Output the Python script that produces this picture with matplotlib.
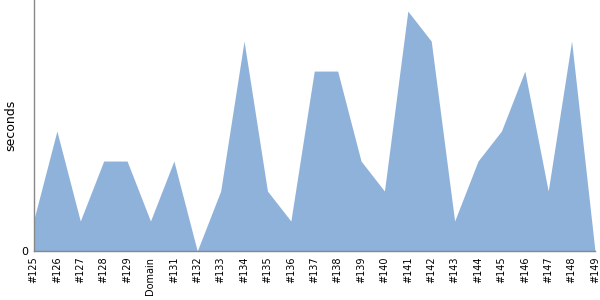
import matplotlib
matplotlib.use("Agg")
import matplotlib.pyplot as plt
import numpy as np

labels = ["#125", "#126", "#127", "#128", "#129", "Domain", "#131", "#132",
          "#133", "#134", "#135", "#136", "#137", "#138", "#139", "#140",
          "#141", "#142", "#143", "#144", "#145", "#146", "#147", "#148",
          "#149"]
seconds = [1, 4, 1, 3, 3, 1, 3, 0, 2, 7, 2, 1, 6, 6, 3, 2, 8, 7, 1, 3, 4,
           6, 2, 7, 0]

fig = plt.figure(figsize=(6, 3), dpi=100)
ax = fig.add_axes([33.5 / 600, 49 / 300, (595 - 33.5) / 600, 251 / 300])

x = np.arange(len(labels))
ax.fill_between(x, seconds, 0, color="#8fb2db", linewidth=0)

ax.set_xlim(0, len(labels) - 1)
ax.set_ylim(0, 8.37)
ax.set_xticks(x)
ax.set_xticklabels(labels, rotation=90, fontsize=7)
ax.set_yticks([0])
ax.set_yticklabels(["0"], fontsize=8)
ax.tick_params(length=0, pad=4)
ax.set_ylabel("seconds", fontsize=9, va="center")
ax.yaxis.set_label_coords(-0.041, 0.5)

for s in ("top", "right"):
    ax.spines[s].set_visible(False)
for s in ("left", "bottom"):
    ax.spines[s].set_color("#888888")
    ax.spines[s].set_linewidth(1)

fig.savefig("out.png", dpi=100)
